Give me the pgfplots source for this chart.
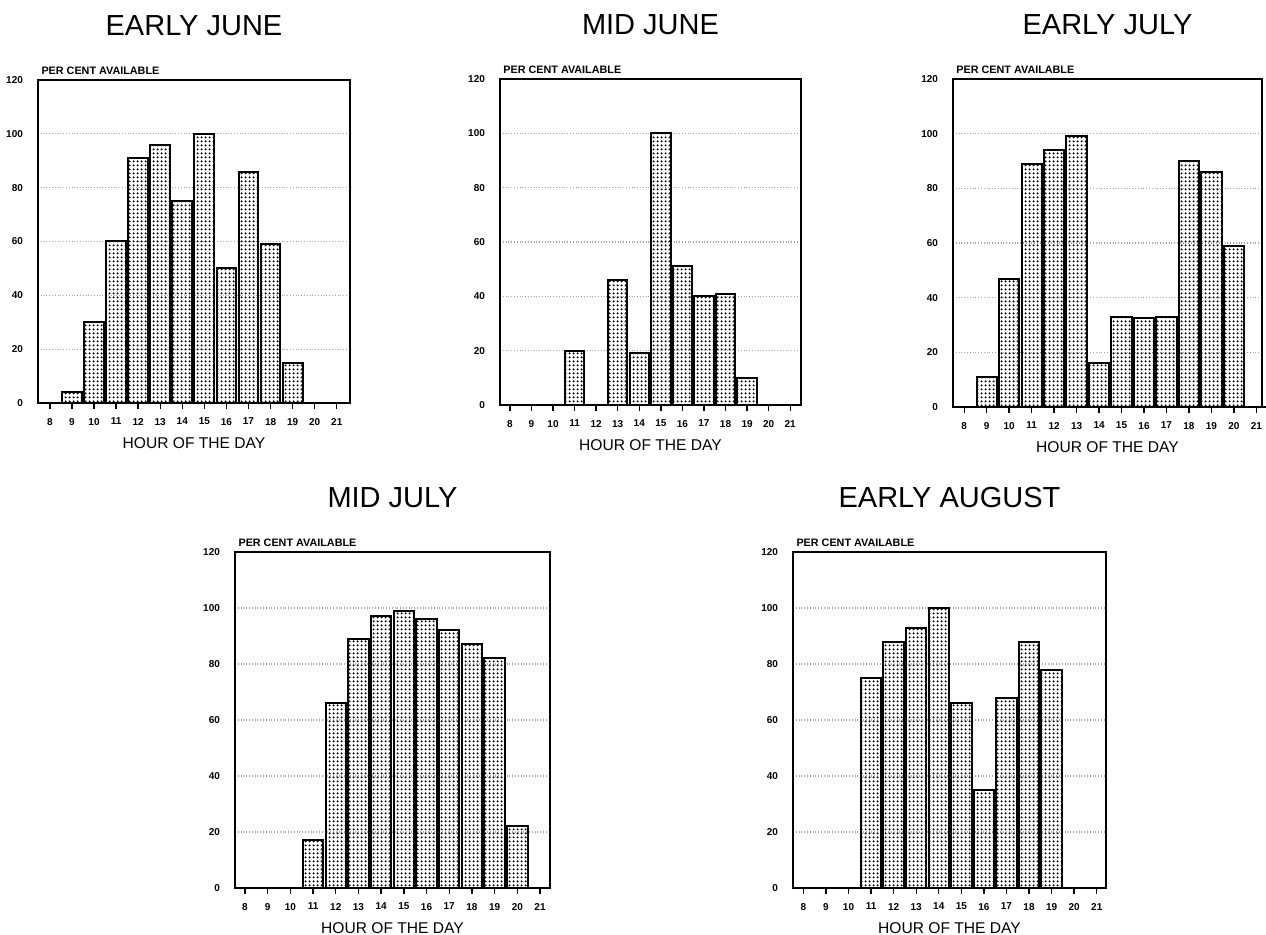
\documentclass[border=0pt]{standalone}
\usepackage{fontspec}
\setmainfont{Liberation Sans}
\usepackage{pgfplots}
\pgfplotsset{compat=1.18}
\usetikzlibrary{patterns.meta}

\tikzdeclarepattern{
  name=bardots,
  type=uncolored,
  bounding box={(0pt,0pt) and (2pt,2pt)},
  tile size={(2pt,2pt)},
  code={\fill (1pt,1pt) circle (0.68pt);}
}

\pgfplotsset{
  panel/.style={
    scale only axis, clip=false,
    ybar, bar width=0.9, bar shift=0pt,
    ymin=0, ymax=120,
    ytick={0,20,...,120},
    xtick={8,...,21},
    ymajorgrids,
    grid style={densely dotted, gray!70, line width=0.6pt},
    axis line style={line width=1pt},
    xtick pos=lower, ytick pos=left,
    tick align=outside,
    major tick length=3pt,
    xtick style={black, line width=0.7pt},
    ytick style={draw=none},
    /pgf/number format/assume math mode=true,
    tick label style={font=\fontsize{5}{6}\selectfont\bfseries},
    xticklabel style={yshift=-1pt},
    yticklabel style={xshift=-1pt},
    xlabel={HOUR OF THE DAY},
    xlabel style={at={(rel axis cs:0.5,0)}, anchor=center, yshift=-20pt, font=\fontsize{7.8}{9}\selectfont},
    title style={at={(rel axis cs:0.5,1)}, anchor=center, yshift=21pt, font=\fontsize{14.5}{16}\selectfont},
    anchor=south west,
  },
  bars/.style={draw=black, line width=1pt, pattern=bardots, pattern color=black},
}
\newcommand{\pca}{\node[anchor=south west, inner sep=0pt, font=\fontsize{5.4}{6}\selectfont\bfseries] at (rel axis cs:0.01,1) [yshift=2.5pt] {PER CENT AVAILABLE};}

\begin{document}
\begin{tikzpicture}
\useasboundingbox (0pt,0pt) rectangle (633pt,467.5pt);

% EARLY JUNE
\begin{axis}[panel, at={(19pt,266pt)}, width=156pt, height=161.5pt, xmin=7.46, xmax=21.6, title={EARLY JUNE}]
\addplot[bars] coordinates {(8,0) (9,4) (10,30) (11,60) (12,91) (13,96) (14,75) (15,100) (16,50) (17,86) (18,59) (19,15) (20,0) (21,0)};
\pca
\end{axis}

% MID JUNE
\begin{axis}[panel, at={(250pt,265pt)}, width=150.5pt, height=163pt, xmin=7.54, xmax=21.5, title={MID JUNE}]
\addplot[bars] coordinates {(8,0) (9,0) (10,0) (11,20) (12,0) (13,46) (14,19) (15,100) (16,51) (17,40) (18,41) (19,10) (20,0) (21,0)};
\pca
\end{axis}

% EARLY JULY
\begin{axis}[panel, at={(476.5pt,264pt)}, width=154.5pt, height=164pt, xmin=7.5, xmax=21.25, title={EARLY JULY}]
\addplot[bars] coordinates {(8,0) (9,11) (10,47) (11,89) (12,94) (13,99) (14,16) (15,33) (16,32.5) (17,33) (18,90) (19,86) (20,59) (21,0)};
\pca
\end{axis}

% MID JULY
\begin{axis}[panel, at={(117.5pt,23.5pt)}, width=157.5pt, height=168pt, xmin=7.56, xmax=21.44, title={MID JULY}]
\addplot[bars] coordinates {(8,0) (9,0) (10,0) (11,17) (12,66) (13,89) (14,97) (15,99) (16,96) (17,92) (18,87) (19,82) (20,22) (21,0)};
\pca
\end{axis}

% EARLY AUGUST
\begin{axis}[panel, at={(396.5pt,23.5pt)}, width=156.5pt, height=168pt, xmin=7.54, xmax=21.41, title={EARLY AUGUST}]
\addplot[bars] coordinates {(8,0) (9,0) (10,0) (11,75) (12,88) (13,93) (14,100) (15,66) (16,35) (17,68) (18,88) (19,78) (20,0) (21,0)};
\pca
\end{axis}
\end{tikzpicture}
\end{document}
